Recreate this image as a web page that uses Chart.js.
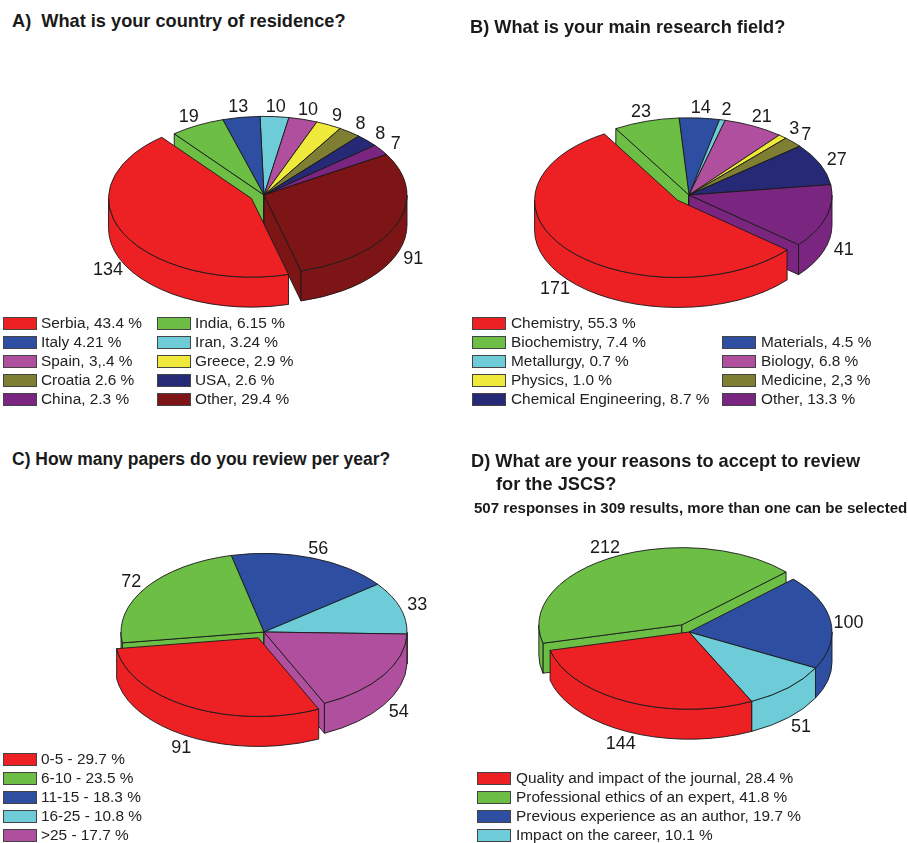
<!DOCTYPE html>
<html>
<head>
<meta charset="utf-8">
<script src="https://cdn.jsdelivr.net/npm/chart.js@4/dist/chart.umd.min.js"></script>
<style>
html,body{margin:0;padding:0;background:#fff;}
#page{position:relative;width:908px;height:843px;overflow:hidden;font-family:"Liberation Sans",Arial,sans-serif;color:#1a1a1a;}
canvas{position:absolute;}
.t{position:absolute;font-weight:bold;white-space:pre;line-height:20px;z-index:2;}
.sw{position:absolute;width:32px;height:11px;border:1px solid #444;box-sizing:content-box;z-index:2;}
.lg{position:absolute;white-space:pre;font-size:15.4px;line-height:16px;color:#222;z-index:2;}
</style>
</head>
<body>
<div id="page"></div>
<script>
// ---------- colours ----------
const RED='#ED2024',GREEN='#6DBE45',BLUE='#2E4EA1',CYAN='#6DCCD8',MAGENTA='#B14F9F',
      YELLOW='#EEE93A',OLIVE='#7F7F33',NAVY='#262A76',PURPLE='#7A2681',MAROON='#7D1416';

// ---------- A: country ----------
const countryValues=[134,19,13,10,10,9,8,8,7,91];
const countryColors=[RED,GREEN,BLUE,CYAN,MAGENTA,YELLOW,OLIVE,NAVY,PURPLE,MAROON];
const countryLegend=['Serbia, 43.4 %','India, 6.15 %','Italy 4.21 %','Iran, 3.24 %','Spain, 3,.4 %','Greece, 2.9 %','Croatia 2.6 %','USA, 2.6 %','China, 2.3 %','Other, 29.4 %'];

// ---------- B: field ----------
const fieldValues=[171,23,14,2,21,3,7,27,41];
const fieldColors=[RED,GREEN,BLUE,CYAN,MAGENTA,YELLOW,OLIVE,NAVY,PURPLE];
const fieldLegend=['Chemistry, 55.3 %','Biochemistry, 7.4 %','Materials, 4.5 %','Metallurgy, 0.7 %','Biology, 6.8 %','Physics, 1.0 %','Medicine, 2,3 %','Chemical Engineering, 8.7 %','Other, 13.3 %'];

// ---------- C: papers ----------
const papersValues=[91,72,56,33,54];
const papersColors=[RED,GREEN,BLUE,CYAN,MAGENTA];
const papersLegend=['0-5 - 29.7 %','6-10 - 23.5 %','11-15 - 18.3 %','16-25 - 10.8 %','>25 - 17.7 %'];

// ---------- D: reasons ----------
const reasonsValues=[144,212,100,51];
const reasonsColors=[RED,GREEN,BLUE,CYAN];
const reasonsLegend=['Quality and impact of the journal, 28.4 %','Professional ethics of an expert, 41.8 %','Previous experience as an author, 19.7 %','Impact on the career, 10.1 %'];

// ---------- titles ----------
const titles=[
 ['A)  What is your country of residence?',12,21,18.2],
 ['B) What is your main research field?',470,27,18.2],
 ['C) How many papers do you review per year?',12,459,17.5],
 ['D) What are your reasons to accept to review',471,461,18.2],
 ['for the JSCS?',496,484,18.2],
 ['507 responses in 309 results, more than one can be selected',474,508,15.05]
];

const page=document.getElementById('page');
const TAU=Math.PI*2;

// 3D pie look: squashes the arcs the library laid out, adds walls, outlines and value labels.
const pie3d={
 id:'pie3d',
 beforeDatasetDraw(chart,args,opts){
  const ctx=chart.ctx, meta=chart.getDatasetMeta(0), vals=chart.data.datasets[0].data;
  const k=opts.squash, d=opts.depth;
  const items=meta.data.map((arc,i)=>{
    const mid=(arc.startAngle+arc.endAngle)/2, off=opts.explode[i]||0;
    return {arc,i,mid,cx:arc.x+Math.cos(mid)*off,cy:arc.y+Math.sin(mid)*off*k};
  }).sort((a,b)=>Math.sin(a.mid)-Math.sin(b.mid));
  ctx.save();
  ctx.lineJoin='round';
  items.forEach(it=>{
    const {arc,cx,cy}=it, rx=arc.outerRadius, ry=rx*k;
    let s=((arc.startAngle%TAU)+TAU)%TAU, e=s+(arc.endAngle-arc.startAngle);
    const color=arc.options.backgroundColor;
    ctx.fillStyle=color; ctx.strokeStyle=opts.line; ctx.lineWidth=opts.lineWidth;
    const face=a=>{
      ctx.beginPath();ctx.moveTo(cx,cy);ctx.lineTo(cx+Math.cos(a)*rx,cy+Math.sin(a)*ry);
      ctx.lineTo(cx+Math.cos(a)*rx,cy+Math.sin(a)*ry+d);ctx.lineTo(cx,cy+d);ctx.closePath();
      ctx.fill();ctx.stroke();
    };
    if(Math.cos(s)<0) face(s);
    if(Math.cos(e)>0) face(e);
    [[0,Math.PI],[TAU,TAU+Math.PI]].forEach(([lo,hi])=>{
      const a=Math.max(s,lo), b=Math.min(e,hi);
      if(b<=a) return;
      ctx.beginPath();ctx.ellipse(cx,cy,rx,ry,0,a,b);ctx.ellipse(cx,cy+d,rx,ry,0,b,a,true);ctx.closePath();
      ctx.fill();ctx.stroke();
    });
    // top surface: the library's own arc, under a squash
    ctx.save();
    ctx.translate(cx,cy);ctx.scale(1,k);ctx.translate(-arc.x,-arc.y);
    arc.draw(ctx);
    ctx.restore();
    ctx.beginPath();ctx.moveTo(cx,cy);ctx.ellipse(cx,cy,rx,ry,0,s,e);ctx.closePath();ctx.stroke();
  });
  // value labels
  ctx.fillStyle='#1a1a1a';ctx.font=opts.font;ctx.textAlign='center';ctx.textBaseline='middle';
  items.forEach(it=>{
    const {arc,mid,cx,cy,i}=it, rx=arc.outerRadius, ry=rx*k;
    const c=Math.cos(mid), sn=Math.sin(mid), n=(opts.nudgeY||{})[i]||0;
    ctx.fillText(String(vals[i]),cx+c*(rx+18),cy+sn*(ry+(sn<0?10:13))+(sn>0.1?d:0)+n);
  });
  ctx.restore();
  return false;
 }
};

function makePie(hubX,hubY,values,colors,startDeg,squash,explode,nudgeY){
  const w=430,h=310;
  const cv=document.createElement('canvas');
  cv.width=w;cv.height=h;cv.style.left=(hubX-w/2)+'px';cv.style.top=(hubY-h/2)+'px';
  cv.style.width=w+'px';cv.style.height=h+'px';
  page.appendChild(cv);
  new Chart(cv,{
    type:'pie',
    data:{labels:values.map(String),datasets:[{data:values,backgroundColor:colors,borderWidth:0}]},
    plugins:[pie3d],
    options:{
      responsive:false,animation:false,events:[],
      rotation:startDeg,radius:143,
      layout:{padding:0},
      plugins:{legend:{display:false},tooltip:{enabled:false},title:{display:false},
        pie3d:{squash,depth:30,explode,nudgeY,line:'#1a1a1a',lineWidth:0.9,font:'18px "Liberation Sans", Arial, sans-serif'}}
    }
  });
}

function legend(texts,colors,cells,rowY,step){
  texts.forEach((t,i)=>{
    const [swX,txtX,row]=cells(i), y=rowY+row*step;
    const s=document.createElement('div');s.className='sw';s.style.left=swX+'px';s.style.top=y+'px';s.style.background=colors[i];page.appendChild(s);
    const l=document.createElement('div');l.className='lg';l.textContent=t;l.style.left=txtX+'px';l.style.top=(y-2)+'px';page.appendChild(l);
  });
}

titles.forEach(([txt,x,y,fs])=>{
  const d=document.createElement('div');d.className='t';d.textContent=txt;
  d.style.left=x+'px';d.style.top=(y-10)+'px';d.style.fontSize=fs+'px';page.appendChild(d);
});

makePie(264,195,countryValues,countryColors,165,0.55,[14]);
makePie(689,195,fieldValues,fieldColors,130,0.54,[15]);
makePie(264,632,papersValues,papersColors,155,0.55,[12]);
makePie(689,632,reasonsValues,reasonsColors,154,0.54,[0,15],{2:3});

legend(countryLegend,countryColors,i=>i%2?[157,195,(i-1)/2]:[3,41,i/2],317,19.1);
const fieldCells=[[472,511,0],[472,511,1],[722,761,1],[472,511,2],[722,761,2],[472,511,3],[722,761,3],[472,511,4],[722,761,4]];
legend(fieldLegend,fieldColors,i=>fieldCells[i],317,19.1);
legend(papersLegend,papersColors,i=>[3,41,i],753,19.1);
legend(reasonsLegend,reasonsColors,i=>[477,516,i],772,19.1);
</script>
</body>
</html>
